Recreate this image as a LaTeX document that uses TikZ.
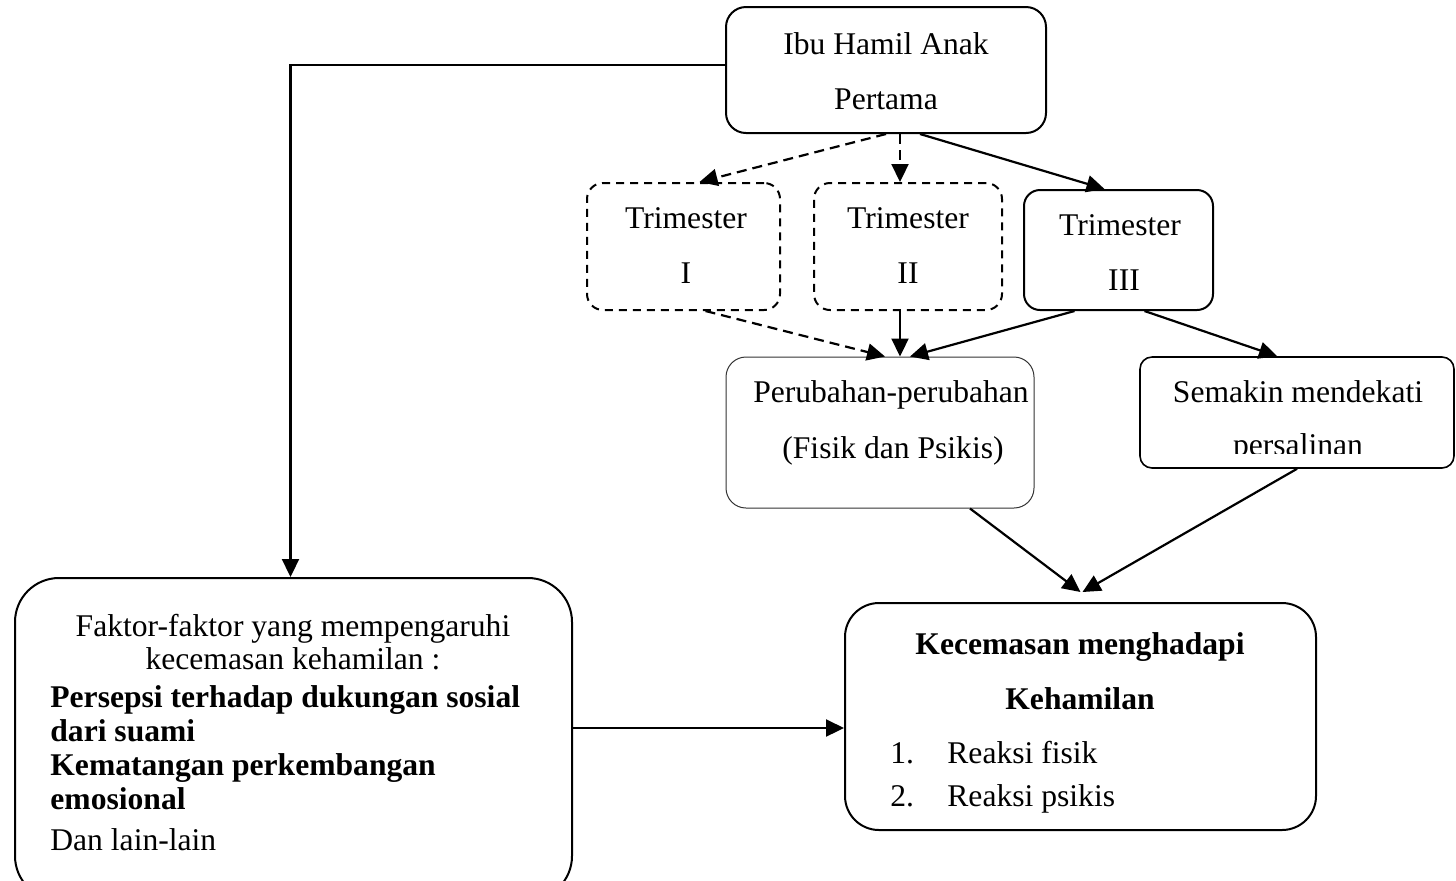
\documentclass[tikz,border=0pt]{standalone}
\usepackage{fontspec}
\setmainfont{Liberation Serif}
\usetikzlibrary{arrows.meta}
\begin{document}
\begin{tikzpicture}[x=0.5pt,y=-0.5pt,
  box/.style={draw, line width=1pt, rounded corners=#1, inner sep=0pt},
  box/.default=8pt,
  dbox/.style={box=8pt, dash pattern=on 4pt off 3pt},
  txt/.style={font=\fontsize{15.8}{19}\selectfont, inner sep=0pt, anchor=base},
  btxt/.style={txt, font=\fontsize{15.8}{19}\selectfont\bfseries},
  arr/.style={line width=1.1pt, -{Triangle[length=9pt,width=8.5pt]}},
  darr/.style={arr, dash pattern=on 5pt off 3pt}]
\path[use as bounding box] (0,0) rectangle (1456,880);
\clip (0,0) rectangle (1456,880);

% boxes
\node[box=10pt, minimum width=160pt, minimum height=63pt] (top) at (886,70) {};
\node[dbox, minimum width=96.5pt, minimum height=63.5pt] (t1) at (683.5,246.5) {};
\node[dbox, minimum width=94pt, minimum height=63.5pt] (t2) at (908,246.5) {};
\node[box=8pt, minimum width=94.5pt, minimum height=60pt] (t3) at (1118.5,250) {};
\node[box=10pt, line width=0.5pt, draw=black!80, minimum width=154pt, minimum height=75.5pt] (per) at (880,432.5) {};
\node[box=6pt, line width=0.8pt, minimum width=157pt, minimum height=55.5pt] (sem) at (1297,412.5) {};
\node[box=17pt, minimum width=235.5pt, minimum height=113.5pt] (kec) at (1080.5,716.5) {};
\node[box=22pt, minimum width=278.5pt, minimum height=161pt] (fak) at (293.5,739) {};

% texts
\node[txt] (topa) at (886,54) {Ibu Hamil Anak};
\node[txt] (topb) at (886,109) {Pertama};
\node[txt] (t1a) at (686,228) {Trimester};
\node[txt] (t1b) at (686,283) {I};
\node[txt] (t2a) at (908,228) {Trimester};
\node[txt] (t2b) at (908,283) {II};
\node[txt] (t3a) at (1120,235) {Trimester};
\node[txt] (t3b) at (1124,290) {III};
\node[txt] (pera) at (891,402) {Perubahan-perubahan};
\node[txt] (perb) at (893,458) {(Fisik dan Psikis)};
\node[txt] (sema) at (1298,402) {Semakin mendekati};
\begin{scope}
\clip (1140,350) rectangle (1456,453);
\node[txt] (semb) at (1298,455) {persalinan};
\end{scope}
\node[btxt] (keca) at (1080,654) {Kecemasan menghadapi};
\node[btxt] (kecb) at (1080,709) {Kehamilan};
\node[txt, anchor=base west] (k1) at (890,763) {1.};
\node[txt, anchor=base west] (k1t) at (947,763) {Reaksi fisik};
\node[txt, anchor=base west] (k2) at (890,806) {2.};
\node[txt, anchor=base west] (k2t) at (947,806) {Reaksi psikis};
\node[txt] (fa) at (293,636) {Faktor-faktor yang mempengaruhi};
\node[txt] (fb) at (293,669) {kecemasan kehamilan :};
\node[btxt, anchor=base west] (fc) at (50,707) {Persepsi terhadap dukungan sosial};
\node[btxt, anchor=base west] (fd) at (50,741) {dari suami};
\node[btxt, anchor=base west] (fe) at (50,775) {Kematangan perkembangan};
\node[btxt, anchor=base west] (ff) at (50,809) {emosional};
\node[txt, anchor=base west] (fg) at (50,850) {Dan lain-lain};

% connectors
\draw[arr] ([yshift=2.5pt]top.west) -| ([xshift=-1.5pt]fak.north);
\draw[darr] (top.south) -- ([xshift=8pt]t1.north);
\draw[darr] ([xshift=-4pt]t2.north |- top.south) -- ([xshift=-4pt]t2.north);
\draw[arr] ([xshift=17pt]top.south) -- ([xshift=-7pt]t3.north);
\draw[darr] ([xshift=11pt]t1.south) -- ([xshift=2.5pt]per.north);
\draw[arr] ([xshift=-4pt]t2.south) -- ([xshift=-4pt]t2.south |- per.north);
\draw[arr] ([xshift=-22pt]t3.south) -- ([xshift=15pt]per.north);
\draw[arr] ([xshift=13pt]t3.south) -- ([xshift=-10pt]sem.north);
\draw[arr] ([xshift=45pt]per.south) -- ([yshift=5pt]kec.north);
\draw[arr] (sem.south) -- ([xshift=1pt,yshift=5pt]kec.north);
\coordinate (hy) at (0,728);
\draw[arr] (fak.east |- hy) -- (kec.west |- hy);
\end{tikzpicture}
\end{document}
